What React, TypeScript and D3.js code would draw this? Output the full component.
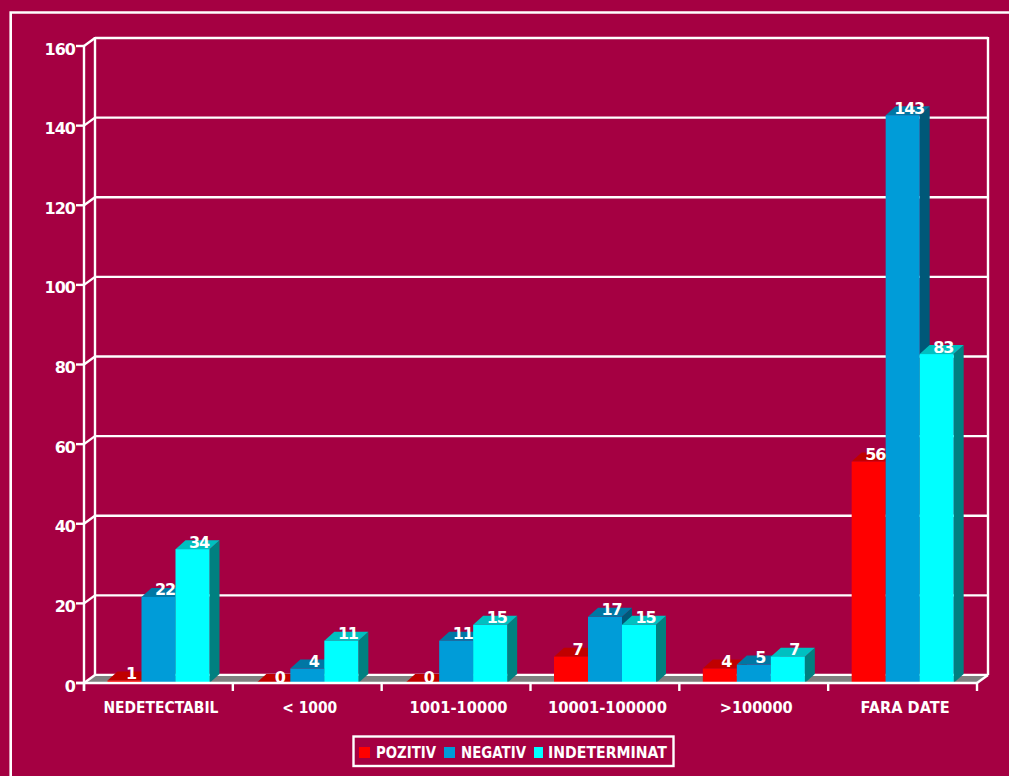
import React from "react";
import * as d3 from "d3";

// Viral-load groups along the horizontal axis
const categories = ["NEDETECTABIL", "< 1000", "1001-10000", "10001-100000", ">100000", "FARA DATE"];
const seriesNames = ["POZITIV", "NEGATIV", "INDETERMINAT"];
const pozitiv = [1, 0, 0, 7, 4, 56];
const negativ = [22, 4, 11, 17, 5, 143];
const indeterminat = [34, 11, 15, 15, 7, 83];
const seriesValues = [pozitiv, negativ, indeterminat];
const yTicks = [0, 20, 40, 60, 80, 100, 120, 140, 160];

// Face shades for each series: front, top, side
const shades = [
  { front: "#ff0000", top: "#c00000", side: "#800000" },
  { front: "#009cd8", top: "#0077a4", side: "#005878" },
  { front: "#00ffff", top: "#00c0c0", side: "#008080" },
];

const BG = "#a50042";
const INK = "#ffffff";
const FONT = "'DejaVu Sans', sans-serif";
const W = 1009;
const H = 776;
// Offset of the back wall from the front plane
const WALL_DX = 11;
const WALL_DY = 8;
// Offset of the bar depth faces
const BAR_DX = 10;
const BAR_DY = 9;
const BAR_SINK = 1.5;

const categoryLabelWidths = [115, 55, 98, 119, 73, 89];

export default function App() {
  const x = d3.scaleBand<string>().domain(categories).range([84, 977]);
  const seriesX = d3.scaleBand<string>().domain(seriesNames).range([23.5, 125.5]);
  const y = d3.scaleLinear().domain([0, 160]).range([683, 46]);
  const y0 = y(0);
  const xEdges = [...categories.map((c) => x(c) as number), 977];
  const left = 84;
  const right = 977;

  const bars = categories.flatMap((c, ci) =>
    seriesNames.map((s, si) => {
      const v = seriesValues[si][ci];
      const x0 = (x(c) as number) + (seriesX(s) as number);
      const x1 = x0 + seriesX.bandwidth();
      const top = Math.min(y(v) + BAR_SINK, y0);
      return { c, s, si, v, x0, x1, top };
    })
  );

  const points = (...p: number[][]) => p.map((q) => q.join(",")).join(" ");

  return (
    <svg
      width={W}
      height={H}
      viewBox={`0 0 ${W} ${H}`}
      style={{ position: "absolute", left: 0, top: 0, background: BG, display: "block" }}
      fontFamily={FONT}
      fontWeight="bold"
      fill={INK}
    >
      <rect width={W} height={H} fill={BG} />
      {/* outer frame, open towards the right and bottom edges */}
      <path d={`M${W},12.5 H10.7 V${H}`} fill="none" stroke={INK} strokeWidth={2.6} />

      {/* back wall: gridlines and verticals */}
      {yTicks.map((t) => (
        <line
          key={t}
          x1={left + WALL_DX}
          x2={right + WALL_DX}
          y1={y(t) - WALL_DY}
          y2={y(t) - WALL_DY}
          stroke={INK}
          strokeWidth={2.4}
        />
      ))}
      <line x1={left + WALL_DX} x2={left + WALL_DX} y1={y(160) - WALL_DY - 1} y2={y0 - WALL_DY} stroke={INK} strokeWidth={2.4} />
      <line x1={right + WALL_DX} x2={right + WALL_DX} y1={y(160) - WALL_DY - 1} y2={y0 - WALL_DY} stroke={INK} strokeWidth={2.4} />

      {/* grey floor */}
      <polygon
        points={points(
          [left, y0],
          [left + WALL_DX, y0 - WALL_DY + 1],
          [right + WALL_DX, y0 - WALL_DY + 1],
          [right, y0]
        )}
        fill="#808080"
      />

      {/* value axis with slanted ticks joining the wall */}
      <line x1={left} x2={left} y1={y(160)} y2={y0 + 8} stroke={INK} strokeWidth={2.4} />
      {yTicks.map((t) => (
        <g key={t}>
          <line x1={left - 8} x2={left} y1={y(t)} y2={y(t)} stroke={INK} strokeWidth={2.4} />
          <line x1={left} x2={left + WALL_DX} y1={y(t)} y2={y(t) - WALL_DY} stroke={INK} strokeWidth={2.4} />
          <text x={75} y={y(t) + 8.5} textAnchor="end" fontSize={16} letterSpacing={-1}>
            {t}
          </text>
        </g>
      ))}

      {/* bars: side, top, then front */}
      {bars.map((b) => {
        const shade = shades[b.si];
        return (
          <g key={`${b.c}-${b.s}`}>
            <polygon
              points={points(
                [b.x1, b.top],
                [b.x1 + BAR_DX, b.top - BAR_DY],
                [b.x1 + BAR_DX, y0 - BAR_DY],
                [b.x1, y0]
              )}
              fill={shade.side}
            />
            <polygon
              points={points(
                [b.x0, b.top],
                [b.x0 + BAR_DX, b.top - BAR_DY],
                [b.x1 + BAR_DX, b.top - BAR_DY],
                [b.x1, b.top]
              )}
              fill={shade.top}
            />
            <rect x={b.x0} y={b.top} width={b.x1 - b.x0} height={y0 - b.top} fill={shade.front} />
          </g>
        );
      })}

      {/* category axis */}
      <line x1={left - 8} x2={right} y1={y0} y2={y0} stroke={INK} strokeWidth={2.4} />
      <line x1={right} x2={right + WALL_DX} y1={y0} y2={y0 - WALL_DY} stroke={INK} strokeWidth={2.4} />
      {xEdges.map((e, i) => (
        <line key={i} x1={e} x2={e} y1={y0} y2={y0 + 8} stroke={INK} strokeWidth={2.4} />
      ))}
      {categories.map((c, i) => (
        <text
          key={c}
          x={(x(c) as number) + x.bandwidth() / 2 + 2.5}
          y={713}
          textAnchor="middle"
          fontSize={15.5}
          textLength={categoryLabelWidths[i]}
          lengthAdjust="spacingAndGlyphs"
        >
          {c}
        </text>
      ))}

      {/* value labels above the bars */}
      {bars.map((b) => (
        <text
          key={`label-${b.c}-${b.s}`}
          x={(b.x0 + b.x1) / 2 + 6.5}
          y={y(b.v)}
          textAnchor="middle"
          fontSize={16}
          letterSpacing={-1.2}
        >
          {b.v}
        </text>
      ))}

      {/* legend */}
      <rect x={353.5} y={736.5} width={320} height={29.5} fill="none" stroke={INK} strokeWidth={2.4} />
      <rect x={359} y={747} width={11} height={11} fill={shades[0].front} />
      <text x={376} y={758} fontSize={15.5} textLength={60} lengthAdjust="spacingAndGlyphs">
        {seriesNames[0]}
      </text>
      <rect x={444} y={747} width={11} height={11} fill={shades[1].front} />
      <text x={461} y={758} fontSize={15.5} textLength={65} lengthAdjust="spacingAndGlyphs">
        {seriesNames[1]}
      </text>
      <rect x={534} y={747} width={9} height={11} fill={shades[2].front} />
      <text x={548} y={758} fontSize={15.5} textLength={119} lengthAdjust="spacingAndGlyphs">
        {seriesNames[2]}
      </text>
    </svg>
  );
}
